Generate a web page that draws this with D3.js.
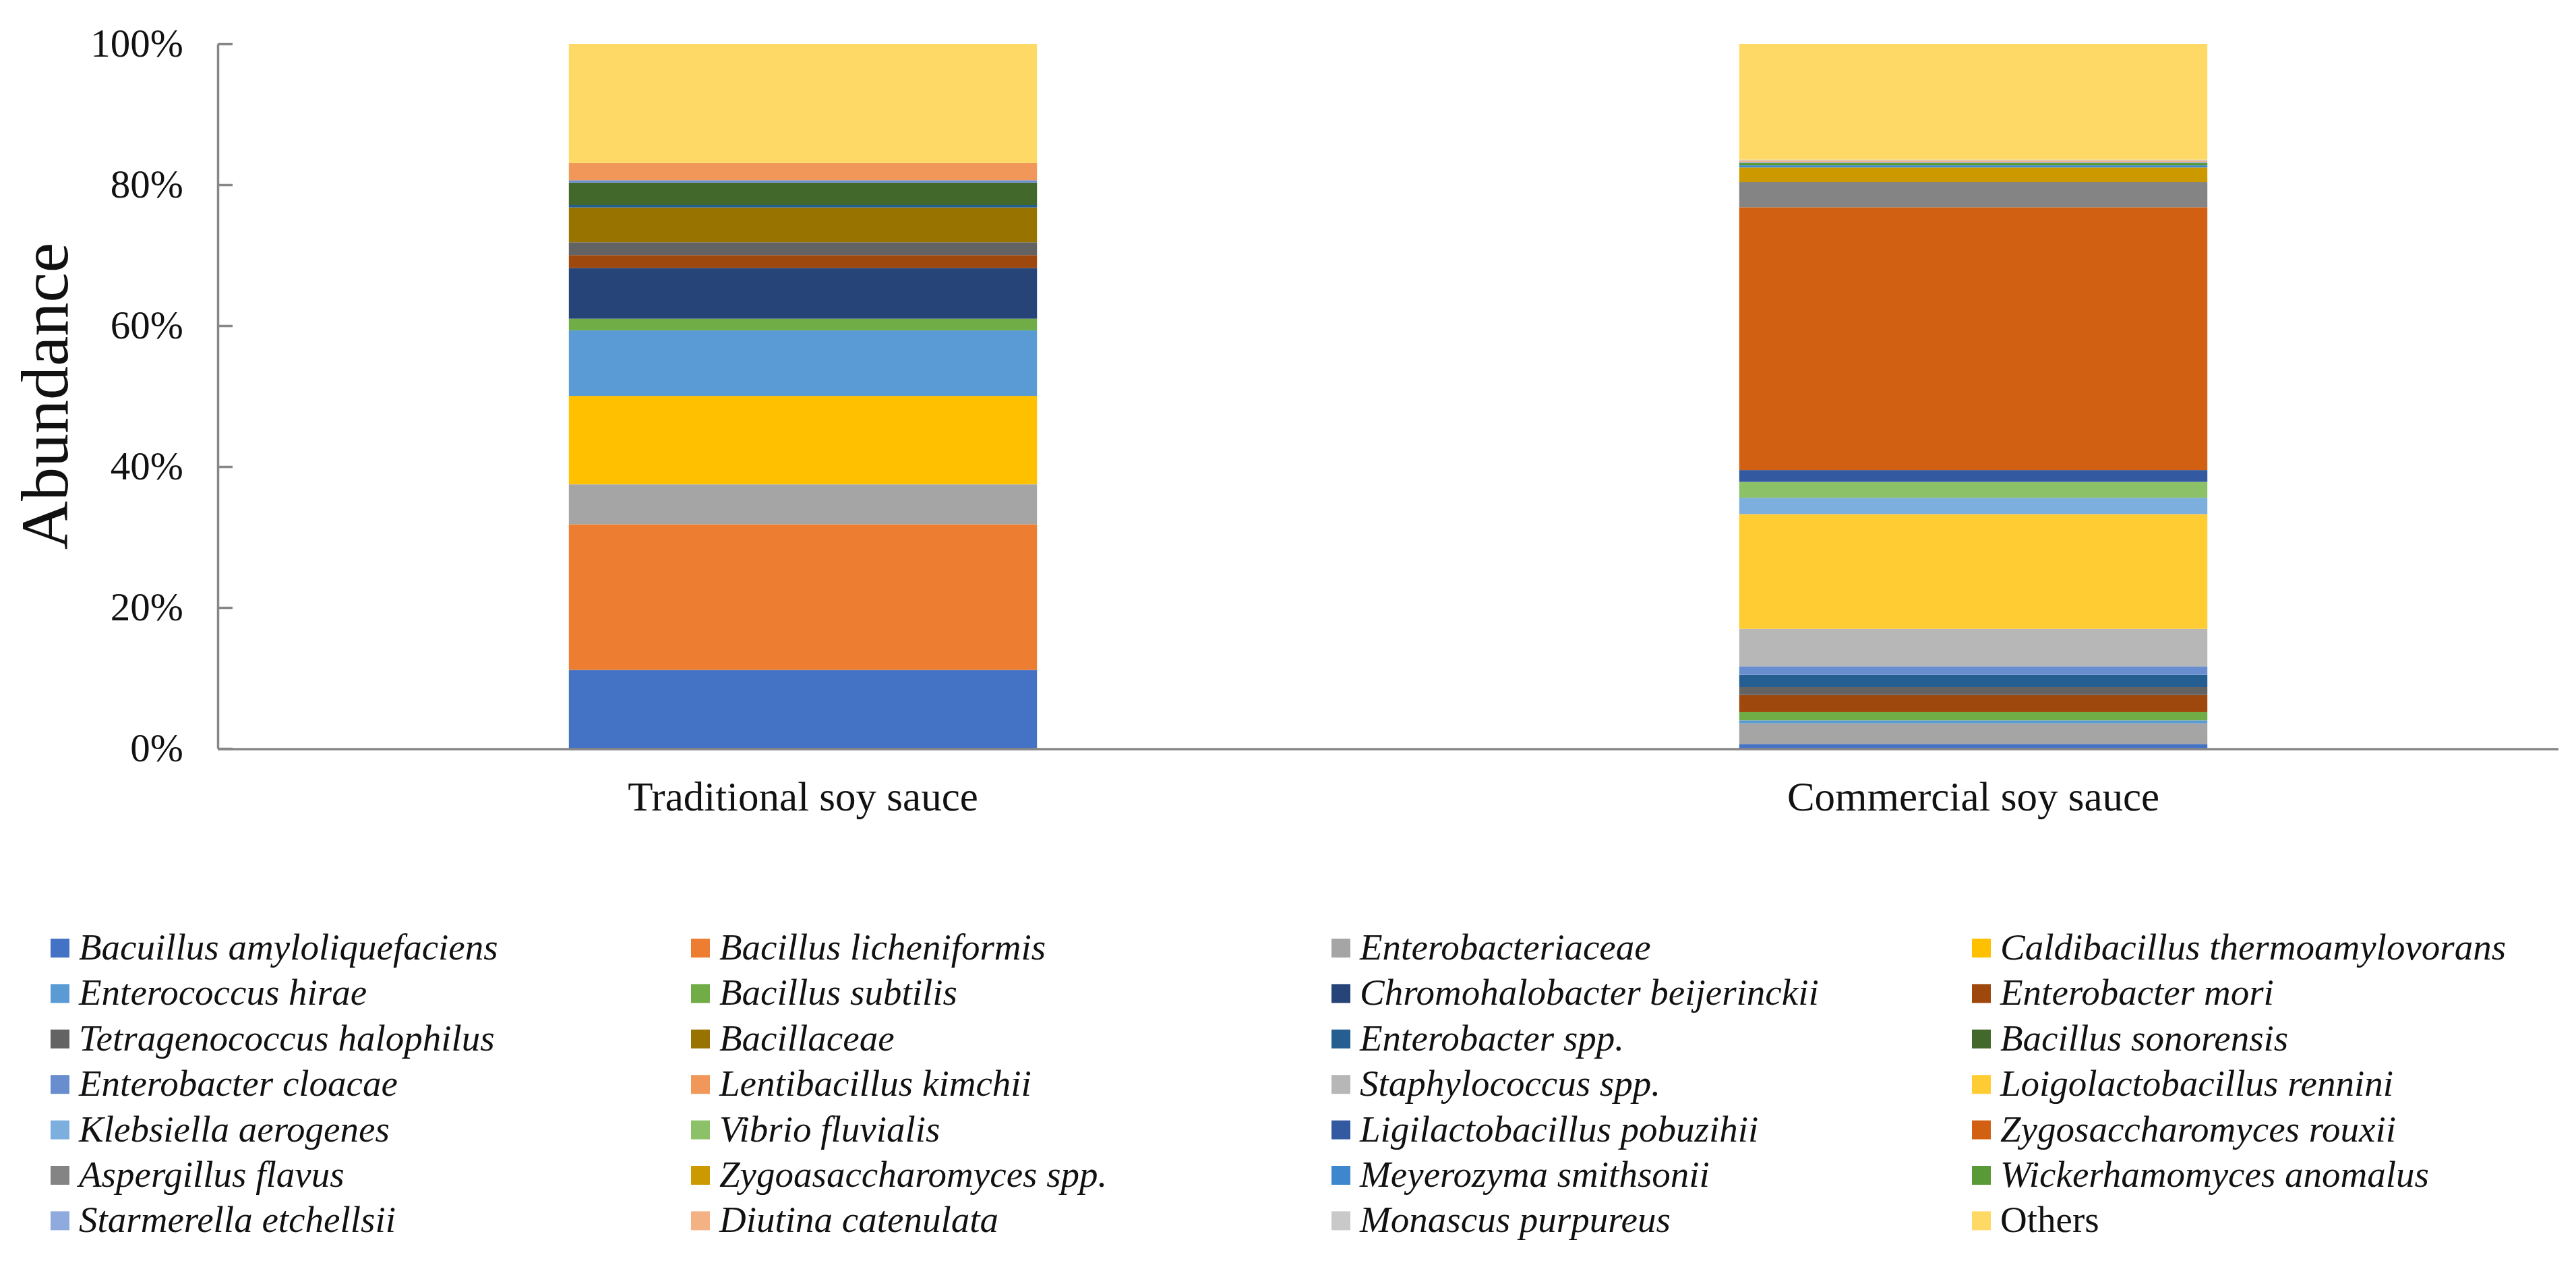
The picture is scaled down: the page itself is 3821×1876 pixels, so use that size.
<!DOCTYPE html>
<html>
<head>
<meta charset="utf-8">
<script src="https://cdn.jsdelivr.net/npm/d3@7"></script>
<style>
  html, body { margin: 0; padding: 0; background: #ffffff; }
  svg { display: block; }
</style>
</head>
<body>
<script>
// ---------------- DATA ----------------
const categories = ["Traditional soy sauce", "Commercial soy sauce"];

const seriesNames = [
  "Bacuillus amyloliquefaciens", "Bacillus licheniformis", "Enterobacteriaceae", "Caldibacillus thermoamylovorans",
  "Enterococcus hirae", "Bacillus subtilis", "Chromohalobacter beijerinckii", "Enterobacter mori",
  "Tetragenococcus halophilus", "Bacillaceae", "Enterobacter spp.", "Bacillus sonorensis",
  "Enterobacter cloacae", "Lentibacillus kimchii", "Staphylococcus spp.", "Loigolactobacillus rennini",
  "Klebsiella aerogenes", "Vibrio fluvialis", "Ligilactobacillus pobuzihii", "Zygosaccharomyces rouxii",
  "Aspergillus flavus", "Zygoasaccharomyces spp.", "Meyerozyma smithsonii", "Wickerhamomyces anomalus",
  "Starmerella etchellsii", "Diutina catenulata", "Monascus purpureus", "Others"
];

// abundance (%) per series, same order as seriesNames
const traditionalValues = [
  11.15, 20.67, 5.67, 12.55,
  9.30, 1.65, 7.21, 1.82,
  1.82, 4.94, 0.35, 3.18,
  0.33, 2.45, 0, 0,
  0, 0, 0, 0,
  0, 0, 0, 0,
  0, 0, 0, 16.91
];
const commercialValues = [
  0.64, 0, 2.93, 0,
  0.42, 1.18, 0, 2.42,
  1.12, 0, 1.75, 0,
  1.19, 0, 5.32, 16.29,
  2.32, 2.25, 1.68, 37.30,
  3.57, 2.08, 0.30, 0.33,
  0.15, 0.18, 0.15, 16.43
];

const yTickValues = [0, 0.2, 0.4, 0.6, 0.8, 1.0];

const palette = [
  "#4472C4", "#ED7D31", "#A5A5A5", "#FFC000",
  "#5B9BD5", "#70AD47", "#264478", "#9E480E",
  "#636363", "#997300", "#255E91", "#43682B",
  "#698ED0", "#F1975A", "#B7B7B7", "#FFCD33",
  "#7CAFDD", "#8CC168", "#335AA1", "#D26012",
  "#848484", "#CC9A00", "#3C87CD", "#5A9A36",
  "#8FAADC", "#F4B183", "#C9C9C9", "#FFD966"
];

// ---------------- LAYOUT ----------------
const W = 3821, H = 1876;
const plot = { left: 323, right: 3795, top: 65, bottom: 1110 };
const serif = "'Liberation Serif', 'Times New Roman', Times, serif";
const axisColor = "#878787";

const svg = d3.select("body").append("svg")
  .attr("width", W).attr("height", H)
  .attr("viewBox", `0 0 ${W} ${H}`);

svg.append("rect").attr("width", W).attr("height", H).attr("fill", "#ffffff");

const x = d3.scaleBand()
  .domain(categories)
  .range([plot.left, plot.right])
  .paddingInner(0.6)
  .paddingOuter(0.3);

const y = d3.scaleLinear()
  .domain([0, 1])
  .range([plot.bottom, plot.top]);

const color = d3.scaleOrdinal().domain(seriesNames).range(palette);

// build table for stacking
const table = categories.map((c, ci) => {
  const row = { category: c };
  const vals = ci === 0 ? traditionalValues : commercialValues;
  seriesNames.forEach((s, si) => { row[s] = vals[si] / 100; });
  return row;
});

const stacked = d3.stack().keys(seriesNames)(table);

// bars
const gBars = svg.append("g");
gBars.selectAll("g.series")
  .data(stacked)
  .join("g")
  .attr("class", "series")
  .attr("fill", d => color(d.key))
  .selectAll("rect")
  .data(d => d)
  .join("rect")
  .attr("x", d => x(d.data.category))
  .attr("width", x.bandwidth())
  .attr("y", d => y(d[1]))
  .attr("height", d => Math.max(0, y(d[0]) - y(d[1])));

// y axis
const yAxis = d3.axisLeft(y)
  .tickValues(yTickValues)
  .tickFormat(d3.format(".0%"))
  .tickSizeInner(-22)
  .tickSizeOuter(0)
  .tickPadding(51);

const gy = svg.append("g")
  .attr("transform", `translate(${plot.left},0)`)
  .call(yAxis);
gy.select(".domain").attr("stroke", axisColor).attr("stroke-width", 3.5);
gy.selectAll(".tick line").attr("stroke", axisColor).attr("stroke-width", 3.5);
gy.selectAll(".tick text")
  .attr("font-family", serif)
  .attr("font-size", 59)
  .attr("fill", "#111111");

// x axis
const xAxis = d3.axisBottom(x).tickSize(0).tickSizeOuter(0).tickPadding(0);
const gx = svg.append("g")
  .attr("transform", `translate(0,${plot.bottom + 1})`)
  .call(xAxis);
gx.select(".domain").attr("stroke", axisColor).attr("stroke-width", 3.5)
  .attr("d", `M${plot.left},0H${plot.right}`);
gx.selectAll(".tick text")
  .attr("font-family", serif)
  .attr("font-size", 61)
  .attr("fill", "#111111")
  .attr("dy", null)
  .attr("y", 91);

// y title
svg.append("text")
  .attr("transform", `translate(100,${(plot.top + plot.bottom) / 2}) rotate(-90)`)
  .attr("text-anchor", "middle")
  .attr("font-family", serif)
  .attr("font-size", 100)
  .attr("fill", "#111111")
  .text("Abundance");

// legend
const legendCols = [75, 1025, 1975, 2925];
const legendRow0 = 1406, legendRowStep = 67.4, markerSize = 28;
const gLeg = svg.append("g");
const items = gLeg.selectAll("g.item")
  .data(seriesNames)
  .join("g")
  .attr("class", "item")
  .attr("transform", (d, i) => `translate(${legendCols[i % 4]},${legendRow0 + Math.floor(i / 4) * legendRowStep})`);
items.append("rect")
  .attr("x", 0).attr("y", -markerSize / 2)
  .attr("width", markerSize).attr("height", markerSize)
  .attr("fill", d => color(d));
items.append("text")
  .attr("x", 42).attr("y", 17)
  .attr("font-family", serif)
  .attr("font-size", 55)
  .attr("font-style", d => d === "Others" ? "normal" : "italic")
  .attr("fill", "#111111")
  .text(d => d);
</script>
</body>
</html>
